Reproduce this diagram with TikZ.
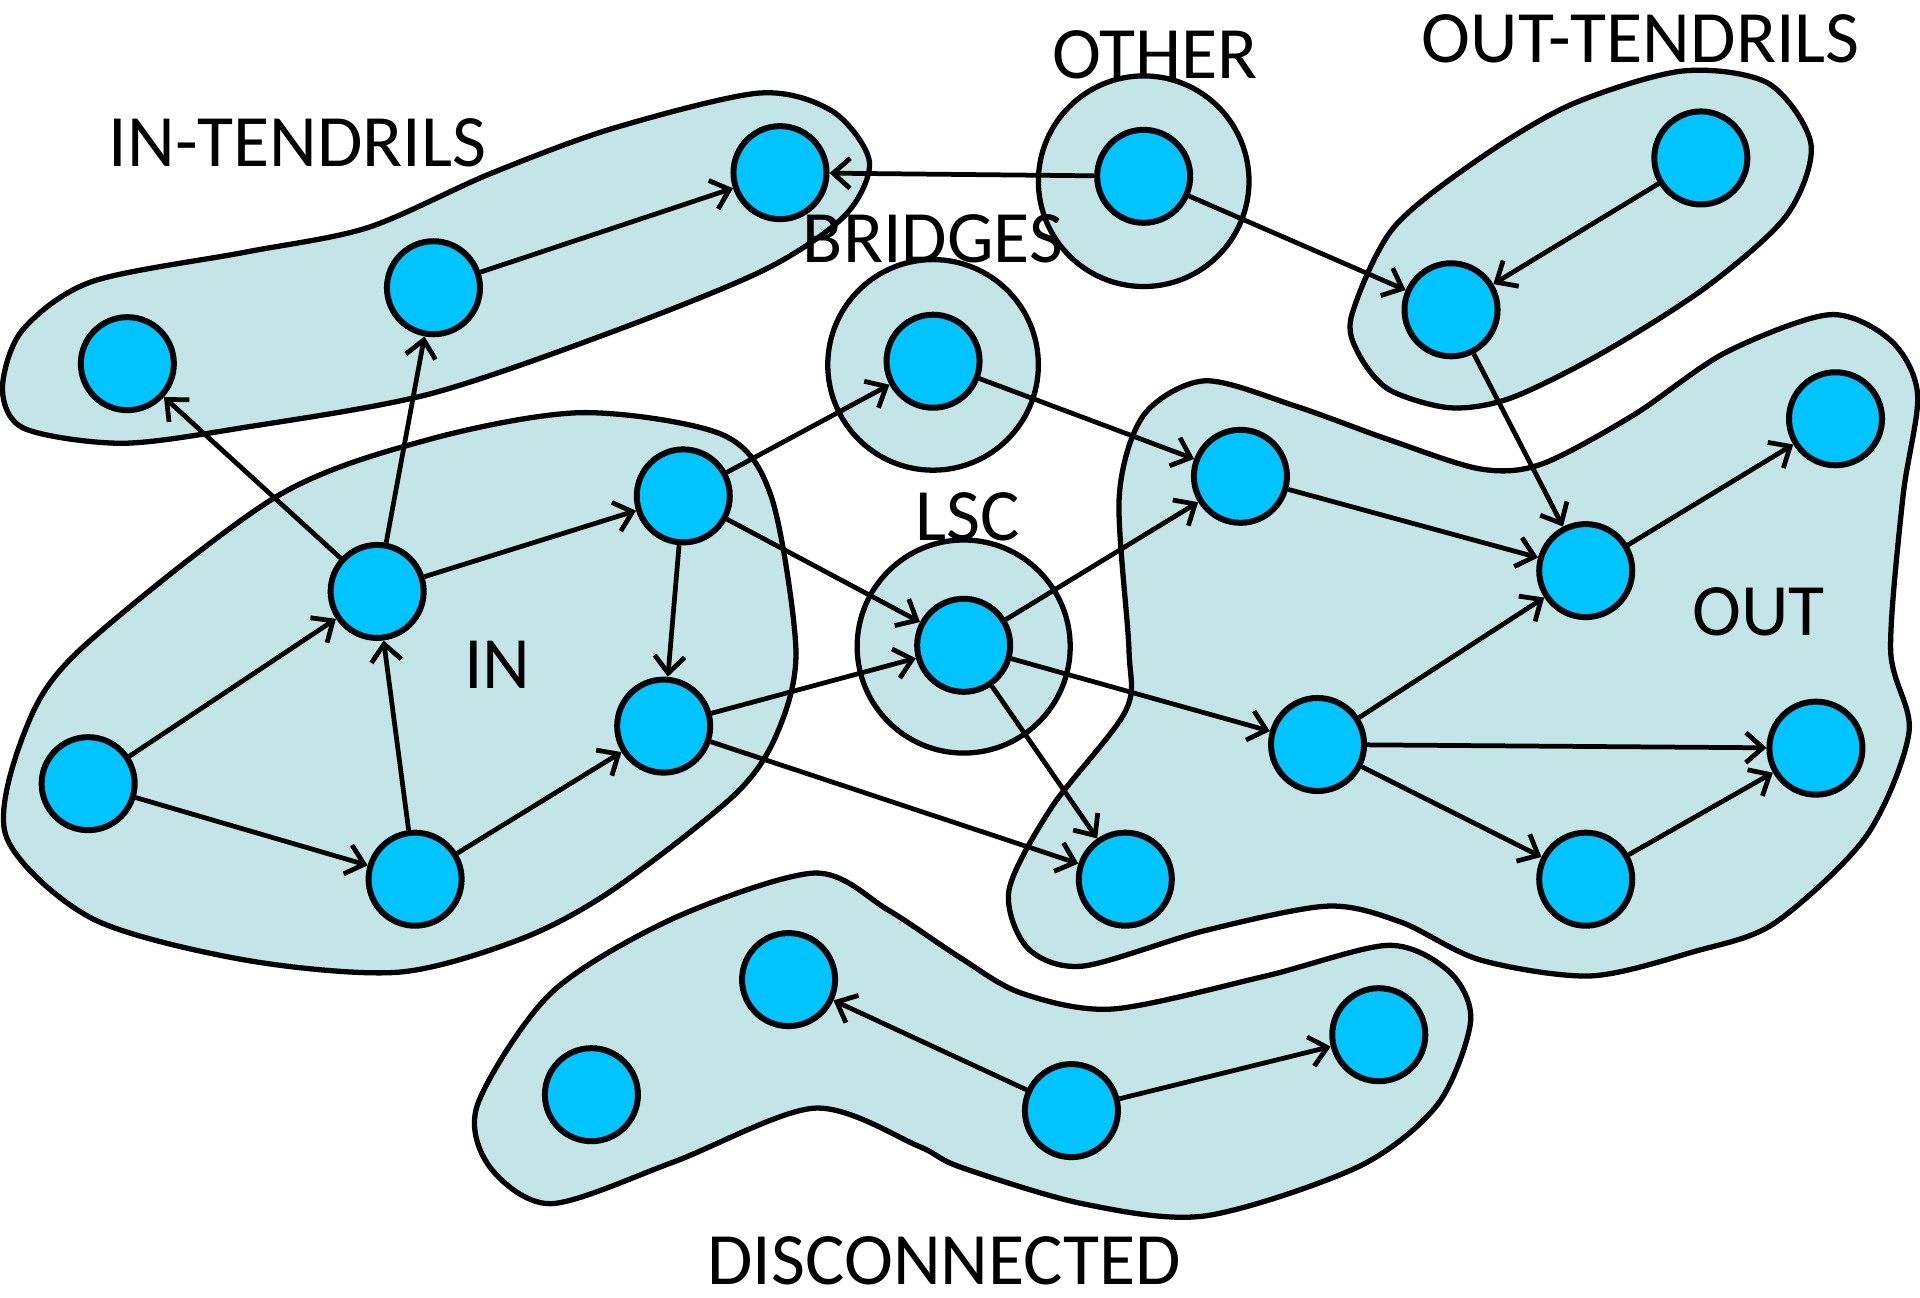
\documentclass[tikz,border=0pt]{standalone}
\usepackage{fontspec}
\setmainfont{Carlito}
\usetikzlibrary{arrows.meta}
\definecolor{blobfill}{RGB}{196,229,232}
\definecolor{vtxfill}{RGB}{0,196,255}
\tikzset{
  blob/.style={draw, fill=blobfill, line width=1.5pt},
  vtx/.style={circle, draw, fill=vtxfill, line width=1.7pt, minimum size=0.93cm, inner sep=0pt},
  lbl/.style={font=\fontsize{21}{25}\selectfont, inner sep=0pt},
}
\begin{document}
\begin{tikzpicture}[x=0.012245cm, y=-0.012245cm, line width=1.35pt,
    >={Straight Barb[length=1.7mm,width=3mm]}]
      \useasboundingbox (0,0) rectangle (1568,1060);
      % regions
      \draw[blob] plot[smooth cycle] coordinates {(2,318) (18,270) (75,230) (200,206) (300,186) (400,142) (500,105) (620,76) (680,91) (710,132) (690,176) (625,220) (500,271) (350,322) (200,349) (100,362) (20,350)};
      \draw[blob] plot[smooth cycle] coordinates {(65,531) (225,406) (350,359) (475,337) (590,355) (630,406) (650,531) (635,598) (600,649) (500,727) (425,767) (325,794) (200,784) (75,750) (5,683) (20,598)};
      \draw[blob] (762,298) circle[radius=86];
      \draw[blob] (934,148) circle[radius=86];
      \draw[blob] (787,528) circle[radius=87];
      \draw[blob] plot[smooth cycle] coordinates {(1104,257) (1138,186) (1209,129) (1284,85) (1374,58) (1444,68) (1479,118) (1459,176) (1394,234) (1309,288) (1234,325) (1184,333) (1134,318) (1109,288)};
      \draw[blob] plot[smooth cycle] coordinates {(914,406) (934,339) (984,311) (1059,332) (1134,359) (1209,383) (1259,379) (1334,339) (1409,288) (1494,257) (1544,278) (1566,322) (1554,406) (1544,531) (1559,598) (1524,683) (1449,754) (1384,777) (1299,797) (1209,784) (1144,753) (1084,740) (984,760) (884,789) (839,774) (824,727) (859,659) (919,581) (922,531)};
      \draw[blob] plot[smooth cycle] coordinates {(665,713) (725,743) (784,782) (834,811) (909,824) (1034,797) (1134,772) (1184,794) (1201,834) (1174,902) (1109,953) (984,993) (884,983) (784,953) (750,936) (665,905) (550,949) (450,983) (400,953) (390,902) (450,811) (550,750)};
      % labels
      \draw
        (243,117) node[lbl] (lintend){IN-TENDRILS}
        (943,45) node[lbl] (lother){OTHER}
        (1340,32) node[lbl] (louttend){OUT-TENDRILS}
        (762,195) node[lbl] (lbridges){BRIDGES}
        (790,422) node[lbl] (llsc){LSC}
        (406,543) node[lbl] (lin){IN}
        (1436,500) node[lbl] (lout){OUT}
        (771,1030) node[lbl] (ldisc){DISCONNECTED};
      % vertices
      \draw
        (104,297) node[vtx] (t1){}
        (354,235) node[vtx] (t2){}
        (637,141) node[vtx] (t3){}
        (934,144) node[vtx] (o){}
        (1389,129) node[vtx] (ot1){}
        (1185,253) node[vtx] (ot2){}
        (762,295) node[vtx] (b){}
        (72,640) node[vtx] (i1){}
        (308,483) node[vtx] (i2){}
        (339,718) node[vtx] (i3){}
        (558,405) node[vtx] (i4){}
        (542,593) node[vtx] (i5){}
        (787,527) node[vtx] (l){}
        (1013,389) node[vtx] (u1){}
        (1295,466) node[vtx] (u2){}
        (1499,342) node[vtx] (u3){}
        (1076,608) node[vtx] (u4){}
        (1483,611) node[vtx] (u5){}
        (1295,718) node[vtx] (u6){}
        (919,718) node[vtx] (u7){}
        (644,800) node[vtx] (d1){}
        (483,894) node[vtx] (d2){}
        (875,907) node[vtx] (d3){}
        (1126,845) node[vtx] (d4){};
      \begin{scope}[->]
        \draw (i1) to (i2);
        \draw (i1) to (i3);
        \draw (i3) to (i2);
        \draw (i3) to (i5);
        \draw (i2) to (t1);
        \draw (i2) to (t2);
        \draw (i2) to (i4);
        \draw (i4) to (i5);
        \draw (i4) to (b);
        \draw (i4) to (l);
        \draw (i5) to (l);
        \draw (i5) to (u7);
        \draw (t2) to (t3);
        \draw (o) to (t3);
        \draw (o) to (ot2);
        \draw (ot1) to (ot2);
        \draw (ot2) to (u2);
        \draw (b) to (u1);
        \draw (l) to (u1);
        \draw (l) to (u4);
        \draw (l) to (u7);
        \draw (u1) to (u2);
        \draw (u2) to (u3);
        \draw (u4) to (u2);
        \draw (u4) to (u5);
        \draw (u4) to (u6);
        \draw (u6) to (u5);
        \draw (d3) to (d1);
        \draw (d3) to (d4);
      \end{scope}
    \end{tikzpicture}
\end{document}
